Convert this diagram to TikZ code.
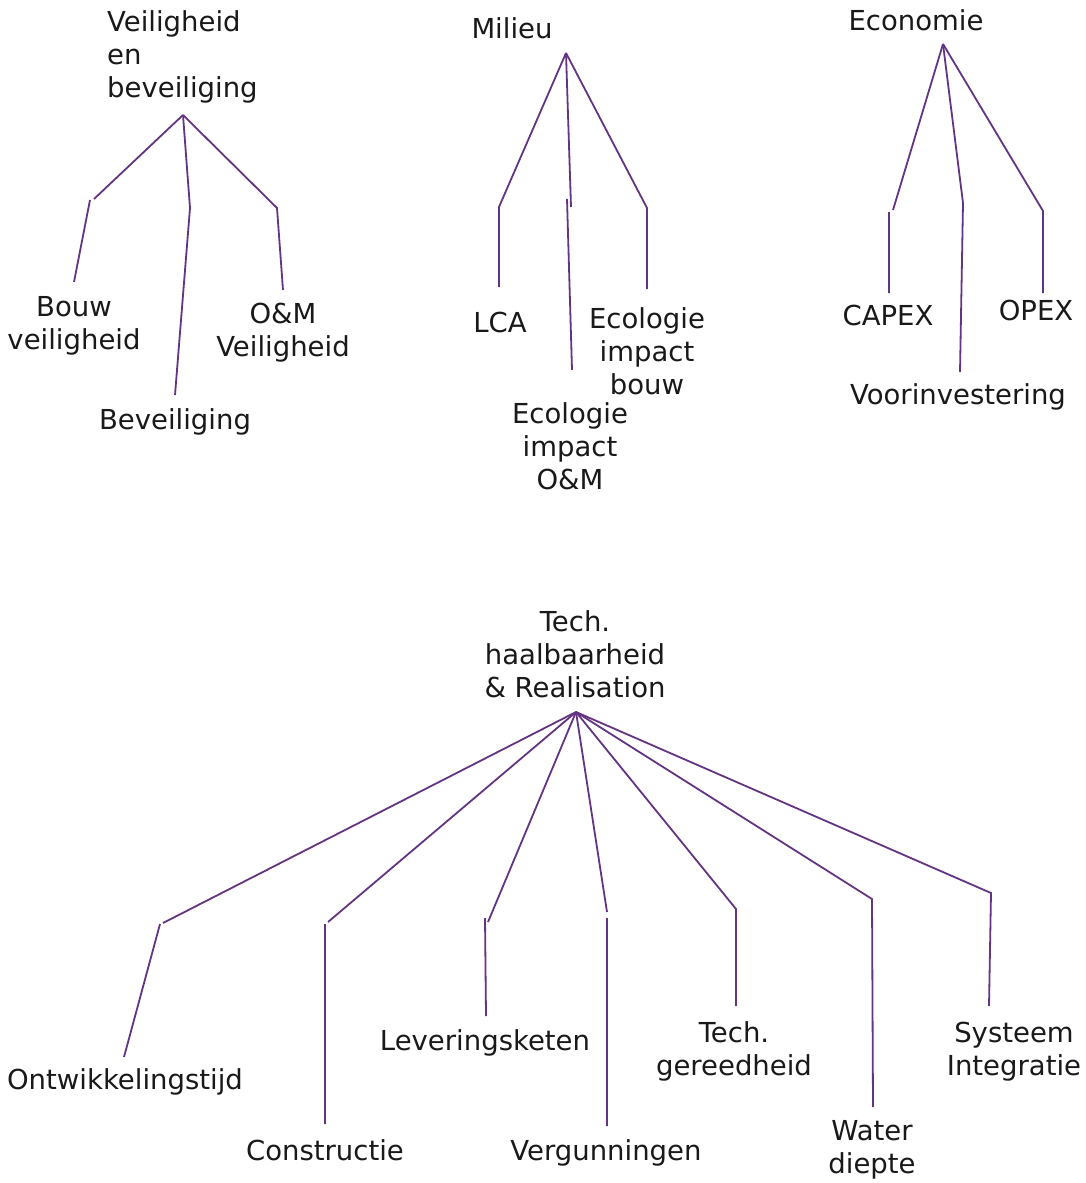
\documentclass[tikz,border=0pt]{standalone}
\usepackage{fontspec}
\setmainfont{DejaVu Sans}
\definecolor{takpaars}{RGB}{98,52,130}
\definecolor{tekstgrijs}{RGB}{25,25,25}

\begin{document}
\begin{tikzpicture}[x=1pt, y=-1pt,
    tak/.style = {draw=takpaars, line width=1.8pt},
    blad/.style = {text=tekstgrijs, font=\fontsize{27.5}{33}\selectfont, align=center, inner sep=0pt}]

\useasboundingbox (0,0) rectangle (1085,1183);

% Veiligheid en beveiliging
\node[blad, align=left, anchor=west] (veilig) at (107,57) {Veiligheid\\en\\beveiliging};
\node[blad] (bouwveilig) at (74,326) {Bouw\\veiligheid};
\node[blad] (beveilig) at (175,422) {Beveiliging};
\node[blad] (omveilig) at (283,333) {O\&M\\Veiligheid};
\coordinate (rveilig) at (183,115);
\coordinate (k11) at (94,199);  \coordinate (k11b) at (90,200);  \coordinate (e11) at (74,282);
\coordinate (k12) at (190,208); \coordinate (e12) at (175,395);
\coordinate (k13) at (277,208); \coordinate (e13) at (283,290);
\draw[tak] (rveilig) -- (k11) (k11b) -- (e11);
\draw[tak] (rveilig) -- (k12) -- (e12);
\draw[tak] (rveilig) -- (k13) -- (e13);

% Milieu
\node[blad] (milieu) at (512,28) {Milieu};
\node[blad] (lca) at (500,322) {LCA};
\node[blad] (ecoom) at (570,446) {Ecologie\\impact\\O\&M};
\node[blad] (ecobouw) at (647,351) {Ecologie\\impact\\bouw};
\coordinate (rmilieu) at (566,53);
\coordinate (k21) at (499,207); \coordinate (e21) at (499,287);
\coordinate (k22) at (571,207); \coordinate (k22b) at (567,199); \coordinate (e22) at (572,370);
\coordinate (k23) at (647,208); \coordinate (e23) at (647,289);
\draw[tak] (rmilieu) -- (k21) -- (e21);
\draw[tak] (rmilieu) -- (k22) (k22b) -- (e22);
\draw[tak] (rmilieu) -- (k23) -- (e23);

% Economie
\node[blad] (econ) at (916,20) {Economie};
\node[blad] (capex) at (888,315) {CAPEX};
\node[blad] (voorinv) at (958,397) {Voorinvestering};
\node[blad] (opex) at (1036,310) {OPEX};
\coordinate (recon) at (943,44);
\coordinate (k31) at (893,210); \coordinate (k31b) at (889,212); \coordinate (e31) at (889,293);
\coordinate (k32) at (963,203); \coordinate (e32) at (960,372);
\coordinate (k33) at (1043,211); \coordinate (e33) at (1043,293);
\draw[tak] (recon) -- (k31) (k31b) -- (e31);
\draw[tak] (recon) -- (k32) -- (e32);
\draw[tak] (recon) -- (k33) -- (e33);

% Tech. haalbaarheid & Realisation
\node[blad] (tech) at (575,654) {Tech.\\haalbaarheid\\\& Realisation};
\node[blad] (ontw) at (125,1082) {Ontwikkelingstijd};
\node[blad] (constr) at (325,1150) {Constructie};
\node[blad] (lever) at (485,1043) {Leveringsketen};
\node[blad] (vergun) at (606,1153) {Vergunningen};
\node[blad] (techger) at (734,1051) {Tech.\\gereedheid};
\node[blad] (water) at (872,1150) {Water\\diepte};
\node[blad] (systeem) at (1014,1052) {Systeem\\Integratie};
\coordinate (rtech) at (576,712);
\coordinate (k41) at (163,923); \coordinate (k41b) at (160,924); \coordinate (e41) at (124,1057);
\coordinate (k42) at (328,922); \coordinate (k42b) at (325,924); \coordinate (e42) at (325,1124);
\coordinate (k43) at (488,922); \coordinate (k43b) at (485,918); \coordinate (e43) at (486,1016);
\coordinate (k44) at (607,912); \coordinate (k44b) at (607,918); \coordinate (e44) at (607,1126);
\coordinate (k45) at (736,909); \coordinate (e45) at (736,1006);
\coordinate (k46) at (872,899); \coordinate (e46) at (873,1107);
\coordinate (k47) at (991,893); \coordinate (e47) at (989,1006);
\draw[tak] (rtech) -- (k41) (k41b) -- (e41);
\draw[tak] (rtech) -- (k42) (k42b) -- (e42);
\draw[tak] (rtech) -- (k43) (k43b) -- (e43);
\draw[tak] (rtech) -- (k44) (k44b) -- (e44);
\draw[tak] (rtech) -- (k45) -- (e45);
\draw[tak] (rtech) -- (k46) -- (e46);
\draw[tak] (rtech) -- (k47) -- (e47);

\end{tikzpicture}
\end{document}
